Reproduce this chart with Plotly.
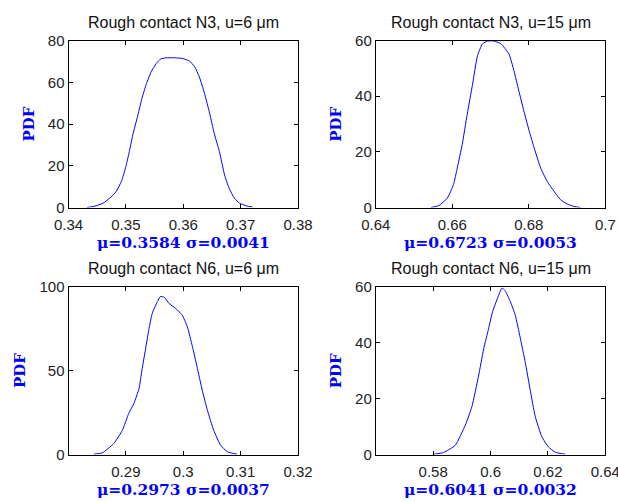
import plotly.graph_objects as go

W, H = 618, 501

# ---- data ----
n3_u6_x = [0.3432, 0.3445, 0.3460, 0.3474, 0.3483, 0.3492, 0.3500, 0.3506, 0.3512, 0.3521,
           0.3528, 0.3536, 0.3544, 0.3553, 0.3561, 0.3570, 0.3585, 0.3599, 0.3611, 0.3620,
           0.3628, 0.3637, 0.3646, 0.3654, 0.3663, 0.3672, 0.3680, 0.3689, 0.3698, 0.3710, 0.3721]
n3_u6_y = [0.0, 0.6, 2.0, 5.0, 7.6, 12.4, 19.6, 26.8, 34.7, 44.3,
           52.3, 59.4, 65.0, 69.0, 71.2, 71.7, 71.7, 71.4, 70.1, 67.4,
           62.6, 54.7, 45.1, 35.5, 26.8, 15.6, 9.2, 4.5, 2.1, 0.8, 0.2]

n3_u15_x = [0.6544, 0.6565, 0.6587, 0.6603, 0.6613, 0.6626, 0.6639, 0.6653, 0.6666, 0.6679,
            0.6692, 0.6709, 0.6727, 0.6748, 0.6761, 0.6774, 0.6787, 0.6801, 0.6814, 0.6831,
            0.6848, 0.6866, 0.6883, 0.6901, 0.6918, 0.6935]
n3_u15_y = [0.0, 0.7, 3.4, 8.2, 14.2, 22.7, 33.5, 44.3, 54.6, 58.8,
            59.8, 59.8, 58.8, 55.2, 49.2, 41.9, 34.7, 27.5, 21.4, 14.2,
            9.4, 5.8, 2.8, 1.2, 0.4, 0.0]

n6_u6_x = [0.2844, 0.2859, 0.2879, 0.2894, 0.2905, 0.2914, 0.2923, 0.2928, 0.2934, 0.2940,
           0.2946, 0.2955, 0.2960, 0.2967, 0.2975, 0.2986, 0.2998, 0.3007, 0.3016, 0.3024,
           0.3033, 0.3042, 0.3053, 0.3065, 0.3077, 0.3094]
n6_u6_y = [0.2, 1.0, 6.6, 14.5, 24.5, 30.4, 39.4, 50.3, 62.2, 74.2,
           84.1, 91.0, 94.0, 93.6, 90.0, 87.1, 83.1, 76.1, 64.2, 52.3,
           38.4, 26.4, 14.5, 5.6, 1.6, 0.2]

n6_u15_x = [0.5801, 0.5836, 0.5877, 0.5912, 0.5935, 0.5958, 0.5976, 0.5993, 0.6007, 0.6022,
            0.6040, 0.6051, 0.6069, 0.6086, 0.6103, 0.6121, 0.6138, 0.6156, 0.6179, 0.6202,
            0.6226, 0.6260]
n6_u15_y = [0.1, 0.7, 3.3, 10.5, 17.1, 28.0, 37.7, 44.9, 51.0, 55.2,
            59.4, 58.5, 54.6, 49.8, 41.9, 32.9, 23.2, 13.5, 6.3, 2.7,
            0.8, 0.1]

titles = ["Rough contact N3, u=6 μm", "Rough contact N3, u=15 μm",
          "Rough contact N6, u=6 μm", "Rough contact N6, u=15 μm"]
stats = ["μ=0.3584 σ=0.0041", "μ=0.6723 σ=0.0053",
         "μ=0.2973 σ=0.0037", "μ=0.6041 σ=0.0032"]
y_label = "PDF"

x_ranges = [[0.34, 0.38], [0.64, 0.70], [0.28, 0.32], [0.56, 0.64]]
x_tickvals = [[0.34, 0.35, 0.36, 0.37, 0.38], [0.64, 0.66, 0.68, 0.70],
              [0.29, 0.30, 0.31, 0.32], [0.58, 0.60, 0.62, 0.64]]
x_ticktext = [["0.34", "0.35", "0.36", "0.37", "0.38"], ["0.64", "0.66", "0.68", "0.7"],
              ["0.29", "0.3", "0.31", "0.32"], ["0.58", "0.6", "0.62", "0.64"]]
y_ranges = [[0, 80], [0, 60], [0, 100], [0, 60]]
y_tickvals = [[0, 20, 40, 60, 80], [0, 20, 40, 60], [0, 50, 100], [0, 20, 40, 60]]

series_x = [n3_u6_x, n3_u15_x, n6_u6_x, n6_u15_x]
series_y = [n3_u6_y, n3_u15_y, n6_u6_y, n6_u15_y]

# ---- layout geometry (pixels) ----
cols = [(68.5, 298.0), (375.8, 605.3)]
rows = [(40.5, 207.5), (286.5, 454.5)]

fig = go.Figure()
annotations = []
layout = dict(width=W, height=H, margin=dict(l=0, r=0, t=0, b=0, pad=0, autoexpand=False),
              paper_bgcolor="white", plot_bgcolor="white", showlegend=False)

for i in range(4):
    r, c = divmod(i, 2)
    x0, x1 = cols[c]
    y0, y1 = rows[r]
    sfx = "" if i == 0 else str(i + 1)
    xa, ya = "x" + sfx, "y" + sfx
    fig.add_trace(go.Scatter(x=series_x[i], y=series_y[i], mode="lines",
                             line=dict(color="#0000ff", width=1, shape="spline", smoothing=0.5),
                             xaxis=xa, yaxis=ya, hoverinfo="skip"))
    common = dict(showline=True, linecolor="black", linewidth=1, mirror="ticks",
                  ticks="inside", ticklen=4, tickcolor="black", showgrid=False,
                  zeroline=False, automargin=False, ticklabeloverflow="allow",
                  tickfont=dict(family="Liberation Sans, Arial", size=15, color="#222"))
    layout["xaxis" + sfx] = dict(domain=[x0 / W, x1 / W], range=x_ranges[i],
                                  tickvals=x_tickvals[i], ticktext=x_ticktext[i],
                                  anchor=ya, ticklabelstandoff=3, **common)
    layout["yaxis" + sfx] = dict(domain=[1 - y1 / H, 1 - y0 / H], range=y_ranges[i],
                                  tickvals=y_tickvals[i], anchor=xa, **common)
    cx = (x0 + x1) / 2 / W
    annotations.append(dict(text=titles[i], x=cx, y=1 - (y0 - 18.5) / H, xref="paper", yref="paper",
                            showarrow=False, xanchor="center", yanchor="middle",
                            font=dict(family="Liberation Sans, Arial", size=16, color="#111")))
    annotations.append(dict(text="<b>" + stats[i] + "</b>", x=cx, y=1 - (y1 + 35) / H,
                            xref="paper", yref="paper", showarrow=False,
                            xanchor="center", yanchor="middle",
                            font=dict(family="DejaVu Serif", size=15.5, color="#0000ff")))
    ylx = (x0 - 40) if (i != 2) else (x0 - 49)
    annotations.append(dict(text="<b>" + y_label + "</b>", x=ylx / W, y=1 - (y0 + y1) / 2 / H,
                            xref="paper", yref="paper", showarrow=False, textangle=-90,
                            xanchor="center", yanchor="middle",
                            font=dict(family="DejaVu Serif", size=15, color="#0000ff")))

layout["annotations"] = annotations
fig.update_layout(**layout)
fig.write_html("out.html")
